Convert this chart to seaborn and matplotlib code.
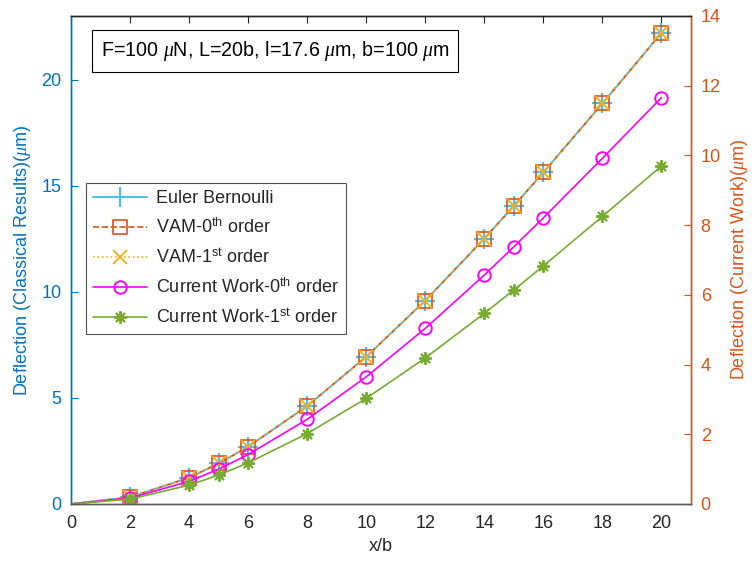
import matplotlib
matplotlib.use("Agg")
import matplotlib.pyplot as plt
import seaborn as sns
import numpy as np

# ---- data ----
x_b = [0, 2, 4, 5, 6, 8, 10, 12, 14, 15, 16, 18, 20]
euler_bernoulli = [0, 0.32, 1.24, 1.91, 2.70, 4.62, 6.94, 9.59, 12.51, 14.05, 15.63, 18.88, 22.2]
vam_0th = [0, 0.32, 1.24, 1.91, 2.70, 4.62, 6.94, 9.59, 12.51, 14.05, 15.63, 18.88, 22.2]
vam_1st = [0, 0.32, 1.24, 1.91, 2.70, 4.62, 6.94, 9.59, 12.51, 14.05, 15.63, 18.88, 22.2]
current_0th = [0, 0.17, 0.65, 1.00, 1.42, 2.43, 3.65, 5.04, 6.57, 7.38, 8.21, 9.92, 11.66]
current_1st = [0, 0.14, 0.54, 0.83, 1.18, 2.02, 3.03, 4.19, 5.47, 6.14, 6.83, 8.25, 9.70]
x_ticks = [0, 2, 4, 6, 8, 10, 12, 14, 16, 18, 20]
left_ticks = [0, 5, 10, 15, 20]
right_ticks = [0, 2, 4, 6, 8, 10, 12, 14]

sns.set_theme(style="white")
plt.rcParams['font.family'] = ['Liberation Sans', 'DejaVu Sans']
plt.rcParams['mathtext.fontset'] = 'custom'
plt.rcParams['mathtext.rm'] = 'Liberation Sans'
plt.rcParams['mathtext.it'] = 'Liberation Serif:italic'
plt.rcParams['mathtext.bf'] = 'Liberation Sans:bold'

C_LEFT = '#0072BD'
C_RIGHT = '#D95319'
C_EB = '#4DBEEE'
C_VAM0 = '#D95319'
C_VAM1 = '#EDB120'
C_CW0 = '#FF00FF'
C_CW1 = '#77AC30'

fig = plt.figure(figsize=(7.55, 5.64), dpi=100)
ax = fig.add_axes([71/755, 1-504/564, 620/755, 488/564])
ax2 = ax.twinx()

lw = 1.2
mev = list(range(1, len(x_b)))
sns.lineplot(x=x_b, y=euler_bernoulli, ax=ax, color=C_EB, marker='+', markersize=14,
             markeredgecolor=C_EB, markeredgewidth=1.6, markevery=mev, linewidth=1.4,
             label='Euler Bernoulli', legend=False)
sns.lineplot(x=x_b, y=vam_0th, ax=ax, color=C_VAM0, marker='s', markersize=9.5,
             markerfacecolor='none', markeredgecolor=C_VAM0, markeredgewidth=1.2, markevery=mev,
             linestyle='--', linewidth=lw, label='VAM-0$^{\\mathrm{th}}$ order', legend=False)
sns.lineplot(x=x_b, y=vam_1st, ax=ax, color=C_VAM1, marker='x', markersize=9.5,
             markeredgecolor=C_VAM1, markeredgewidth=1.4, markevery=mev, linestyle=':',
             linewidth=lw, label='VAM-1$^{\\mathrm{st}}$ order', legend=False)
sns.lineplot(x=x_b, y=current_0th, ax=ax2, color=C_CW0, marker='o', markersize=9,
             markerfacecolor='none', markeredgecolor=C_CW0, markeredgewidth=1.4, markevery=mev,
             linewidth=lw, label='Current Work-0$^{\\mathrm{th}}$ order', legend=False)
sns.lineplot(x=x_b, y=current_1st, ax=ax2, color=C_CW1, marker=(8, 2, 0), markersize=9,
             markeredgecolor=C_CW1, markeredgewidth=1.4, markevery=mev, linewidth=lw,
             label='Current Work-1$^{\\mathrm{st}}$ order', legend=False)

ax.set_xlim(0, 21)
ax.set_ylim(0, 23)
ax2.set_ylim(0, 14)
ax.set_xticks(x_ticks)
ax.set_yticks(left_ticks)
ax2.set_yticks(right_ticks)

fs = 13
ax.tick_params(axis='x', direction='in', top=True, length=5, width=0.8, colors='#262626',
               labelsize=fs, pad=8)
ax.tick_params(axis='y', direction='in', length=5, width=0.8, colors=C_LEFT, labelsize=fs, pad=7)
ax2.tick_params(axis='y', direction='in', length=5, width=0.8, colors=C_RIGHT, labelsize=fs, pad=7)
ax2.tick_params(axis='x', top=False, bottom=False)

for a in (ax, ax2):
    a.spines['top'].set_color('#262626')
    a.spines['bottom'].set_color('#5a5a5a')
    a.spines['left'].set_color(C_LEFT)
    a.spines['right'].set_color(C_RIGHT)
    for s in a.spines.values():
        s.set_linewidth(1.0)
        s.set_visible(True)

ax.set_xlabel('x/b', fontsize=fs, color='#262626', labelpad=4)
ax.set_ylabel('Deflection (Classical Results)($\\mu$m)', fontsize=fs, color=C_LEFT, labelpad=6)
ax2.set_ylabel('Deflection (Current Work)($\\mu$m)', fontsize=fs, color=C_RIGHT, labelpad=6)

h1, l1 = ax.get_legend_handles_labels()
h2, l2 = ax2.get_legend_handles_labels()
leg = ax2.legend(h1 + h2, l1 + l2, loc='upper left', bbox_to_anchor=(0.024, 0.658),
                 fontsize=fs, frameon=True, fancybox=False, edgecolor='#262626',
                 handlelength=3.0, borderpad=0.4, labelspacing=0.6, handletextpad=0.5,
                 borderaxespad=0)
leg.get_frame().set_linewidth(0.8)
for h in leg.legend_handles:
    h.set_markevery([1])

ax2.text(0.329, 0.929, 'F=100 $\\mu$N, L=20b, l=17.6 $\\mu$m, b=100 $\\mu$m',
         transform=ax.transAxes, ha='center', va='center', fontsize=14.2, color='black',
         bbox=dict(boxstyle='square,pad=0.45', facecolor='white', edgecolor='black', linewidth=0.8))

fig.savefig('out.png', dpi=100)
